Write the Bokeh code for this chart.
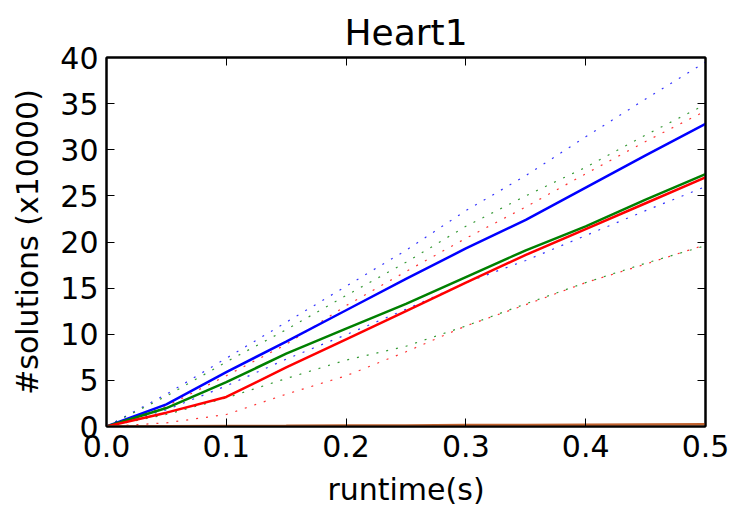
from bokeh.plotting import figure
from bokeh.models import Range1d, LinearAxis, FixedTicker, PrintfTickFormatter, CustomLabelingPolicy
from bokeh.embed import file_html
from bokeh.resources import INLINE

# runtime (s)
runtime = [0.0, 0.05, 0.1, 0.15, 0.2, 0.25, 0.3, 0.35, 0.4, 0.45, 0.5]

# #solutions (x10000) - solid mean curves
blue_mean = [0.0, 2.4, 5.9, 9.2, 12.6, 16.0, 19.3, 22.4, 25.9, 29.4, 32.8]
green_mean = [0.0, 2.0, 4.8, 7.9, 10.6, 13.3, 16.2, 19.1, 21.7, 24.6, 27.35]
red_mean = [0.0, 1.5, 3.2, 6.4, 9.45, 12.5, 15.6, 18.6, 21.4, 24.2, 27.0]

# dotted bounds
blue_upper = [0.0, 3.5, 7.4, 11.3, 15.2, 19.1, 23.4, 27.2, 31.4, 35.5, 39.5]
blue_lower = [0.0, 1.8, 4.4, 7.3, 9.95, 12.7, 15.6, 18.0, 20.7, 23.4, 26.0]
green_upper = [0.0, 3.3, 7.0, 10.5, 14.2, 17.8, 21.7, 25.0, 28.1, 31.6, 34.9]
green_lower = [0.0, 1.3, 3.1, 5.2, 7.2, 8.7, 10.9, 13.3, 15.6, 17.7, 19.6]
red_upper = [0.0, 2.2, 5.5, 8.9, 13.1, 16.8, 20.4, 23.8, 27.4, 30.9, 34.2]
red_lower = [0.0, 0.4, 1.3, 3.5, 5.5, 8.1, 10.9, 13.2, 15.6, 17.6, 19.7]

# near-zero series
orange_mean = [0.0, 0.02, 0.05, 0.07, 0.1, 0.12, 0.15, 0.17, 0.2, 0.22, 0.25]

x_ticks = [0.0, 0.1, 0.2, 0.3, 0.4, 0.5]
y_ticks = [0, 5, 10, 15, 20, 25, 30, 35, 40]

FONT = "DejaVu Sans"

p = figure(width=731, height=511, output_backend="svg", toolbar_location=None,
           x_range=Range1d(0, 0.5), y_range=Range1d(0, 40),
           title="Heart1")
p.min_border_left = 106
p.min_border_right = 26
p.min_border_top = 57
p.min_border_bottom = 85

p.title.align = "center"
p.title.text_font = FONT
p.title.text_font_size = "36px"
p.title.text_font_style = "normal"
p.title.text_color = "black"

p.xgrid.visible = False
p.ygrid.visible = False
p.outline_line_color = "black"
p.outline_line_width = 2
p.background_fill_color = "white"
p.border_fill_color = "white"

dash = "2 8"
p.line(runtime, blue_upper, line_color="#0000ff", line_width=1.2, line_dash=dash, line_alpha=0.8)
p.line(runtime, blue_lower, line_color="#0000ff", line_width=1.2, line_dash=dash, line_alpha=0.8)
p.line(runtime, green_upper, line_color="#008000", line_width=1.2, line_dash=dash, line_alpha=0.8)
p.line(runtime, green_lower, line_color="#008000", line_width=1.2, line_dash=dash, line_alpha=0.8)
p.line(runtime, red_upper, line_color="#ff0000", line_width=1.2, line_dash=dash, line_alpha=0.8)
p.line(runtime, red_lower, line_color="#ff0000", line_width=1.2, line_dash=dash, line_alpha=0.8)

p.line(runtime, blue_mean, line_color="#0000ff", line_width=2.5)
p.line(runtime, green_mean, line_color="#008000", line_width=2.5)
p.line(runtime, red_mean, line_color="#ff0000", line_width=2.5)
p.line(runtime, orange_mean, line_color="#c0622f", line_width=2.5)

no_labels = CustomLabelingPolicy(code="""
    const arr = Array.from(indices)
    for (const i of arr) indices.unset(i)
    return indices
""")


def style_axis(ax, show_labels):
    ax.major_tick_in = 8
    ax.major_tick_out = 0
    ax.minor_tick_in = 0
    ax.minor_tick_out = 0
    ax.axis_line_color = "black"
    ax.axis_line_width = 2
    ax.major_tick_line_color = "black"
    ax.major_tick_line_width = 1
    if show_labels:
        ax.major_label_text_font = FONT
        ax.major_label_text_font_size = "30px"
        ax.major_label_text_color = "black"
        ax.axis_label_text_font = FONT
        ax.axis_label_text_font_size = "30px"
        ax.axis_label_text_font_style = "normal"
        ax.axis_label_text_color = "black"
    else:
        ax.major_label_policy = no_labels
        ax.major_label_text_font_size = "0px"
        ax.major_label_standoff = 0


xa = p.xaxis[0]
xa.ticker = FixedTicker(ticks=x_ticks)
xa.formatter = PrintfTickFormatter(format="%.1f")
xa.axis_label = "runtime(s)"
style_axis(xa, True)
xa.major_label_standoff = 8
xa.axis_label_standoff = 12

ya = p.yaxis[0]
ya.ticker = FixedTicker(ticks=y_ticks)
ya.axis_label = "#solutions (x10000)"
style_axis(ya, True)
ya.major_label_standoff = 8
ya.axis_label_standoff = 12

ra = LinearAxis(ticker=FixedTicker(ticks=y_ticks))
style_axis(ra, False)
p.add_layout(ra, "right")

ta = LinearAxis(ticker=FixedTicker(ticks=x_ticks))
style_axis(ta, False)
p.add_layout(ta, "above")

html = file_html(p, INLINE)
open("out.html", "w").write(html)
